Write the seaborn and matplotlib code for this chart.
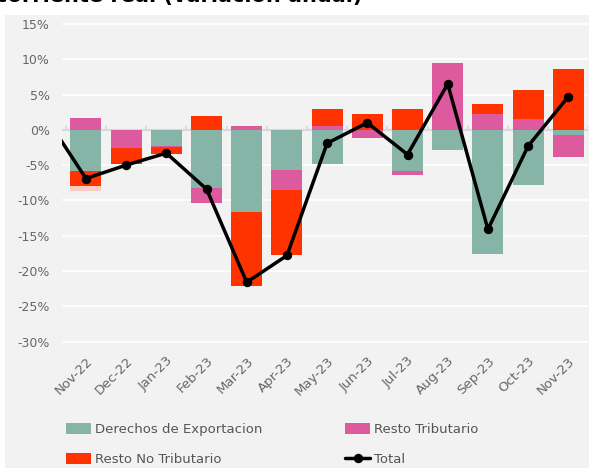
import numpy as np
import pandas as pd
import matplotlib.pyplot as plt
import seaborn as sns
from matplotlib.patches import Rectangle

# Data (real y/y change, % points)
months = ['Nov-22', 'Dec-22', 'Jan-23', 'Feb-23', 'Mar-23', 'Apr-23', 'May-23',
          'Jun-23', 'Jul-23', 'Aug-23', 'Sep-23', 'Oct-23', 'Nov-23']
derechos = [-5.9, 0.0, -2.3, -8.3, -11.6, -5.7, -4.8, 0.0, -5.9, -2.8, -17.6, -7.8, -0.8]
resto_trib = [1.7, -2.6, -0.2, -2.1, 0.6, -2.8, 0.5, -1.2, -0.5, 9.4, 2.2, 1.5, -3.0]
resto_no_trib = [-2.0, -2.3, -0.9, 2.0, -10.5, -9.3, 2.4, 2.2, 2.9, 0.0, 1.5, 4.1, 8.6]
otros = [-0.7, 0, 0, 0, 0, 0, 0, 0, 0, 0, 0, 0, 0]
total = [-6.9, -5.0, -3.3, -8.4, -21.6, -17.8, -1.9, 1.0, -3.5, 6.5, -14.1, -2.3, 4.7]
total_prev = 1.8  # Oct-22, off the left edge

yticks = [15, 10, 5, 0, -5, -10, -15, -20, -25, -30]

sns.set_theme(style='white')
plt.rcParams['font.family'] = ['DejaVu Sans']

GREEN = '#86b5a8'
PINK = '#de5a9e'
RED = '#ff3300'
LIGHT = '#f8cdc3'
BG = '#f2f2f2'
TXT = '#666666'

fig = plt.figure(figsize=(5.89, 4.68), dpi=100)
fig.patch.set_facecolor('white')
fig.patches.append(Rectangle((5 / 589, 0), 1, 1 - 15 / 468, transform=fig.transFigure,
                             facecolor=BG, edgecolor='none', zorder=-10))
# title is cropped at the top edge in the source image
fig.text(362 / 589, 1 - 2 / 468, 'Ingreso corriente real (variación anual)', ha='right',
         va='baseline', fontsize=15, fontweight='bold', color='black')

ax = fig.add_axes([0.105, 0.255, 0.894, 0.709])
ax.set_facecolor('none')

x = np.arange(len(months))
series = [(derechos, GREEN, 'Derechos de Exportacion'),
          (resto_trib, PINK, 'Resto Tributario'),
          (resto_no_trib, RED, 'Resto No Tributario'),
          (otros, LIGHT, '_nolegend_')]

pos_base = np.zeros(len(months))
neg_base = np.zeros(len(months))
for vals, color, label in series:
    v = np.array(vals, dtype=float)
    bottom = np.where(v >= 0, pos_base, neg_base)
    ax.bar(x, v, bottom=bottom, width=0.77, color=color, label=label, zorder=2,
           edgecolor='none')
    pos_base += np.where(v > 0, v, 0)
    neg_base += np.where(v < 0, v, 0)

line_df = pd.DataFrame({'x': np.concatenate([[-1], x]),
                        'total': [total_prev] + total})
sns.lineplot(data=line_df, x='x', y='total', ax=ax, color='black', linewidth=2.5,
             marker='o', markersize=6, markeredgecolor='black', label='Total', zorder=4)

# gridlines and zero line
for t in yticks:
    if t != 0:
        ax.axhline(t, color='white', linewidth=1.2, zorder=0)
ax.axhline(0, color='#d8d8d8', linewidth=1.5, zorder=1)
ax.vlines(np.append(x - 0.5, 12.5), 0, 0.6, color='#d8d8d8', linewidth=1.2, zorder=1)

ax.set_xlim(-0.6, 12.5)
ax.set_ylim(-31, 16)
ax.set_yticks(yticks)
ax.set_yticklabels([f'{t}%' for t in yticks])
ax.set_xticks(x)
ax.set_xticklabels(months, rotation=45, ha='right', rotation_mode='anchor')
ax.tick_params(axis='y', length=0, labelsize=9, labelcolor=TXT, pad=8.5)
ax.tick_params(axis='x', length=0, labelsize=9.5, labelcolor=TXT, pad=4)
ax.set_xlabel('')
ax.set_ylabel('')
for s in ax.spines.values():
    s.set_visible(False)

handles, labels = ax.get_legend_handles_labels()
ax.get_legend().remove()
# legend fills column-first, so this gives rows: Derechos | Resto Trib, Resto No Trib | Total
order = ['Derechos de Exportacion', 'Resto No Tributario', 'Resto Tributario', 'Total']
hmap = dict(zip(labels, handles))
leg = fig.legend([hmap[l] for l in order], order, ncol=2, loc='upper left',
                 bbox_to_anchor=(54 / 589, 1 - 411 / 468), frameon=False,
                 fontsize=9.5, handlelength=1.9, handleheight=0.9, handletextpad=0.3,
                 columnspacing=6.3, labelspacing=1.3)
for t in leg.get_texts():
    t.set_color('#555555')

fig.savefig('out.png', dpi=100, facecolor=fig.get_facecolor())
